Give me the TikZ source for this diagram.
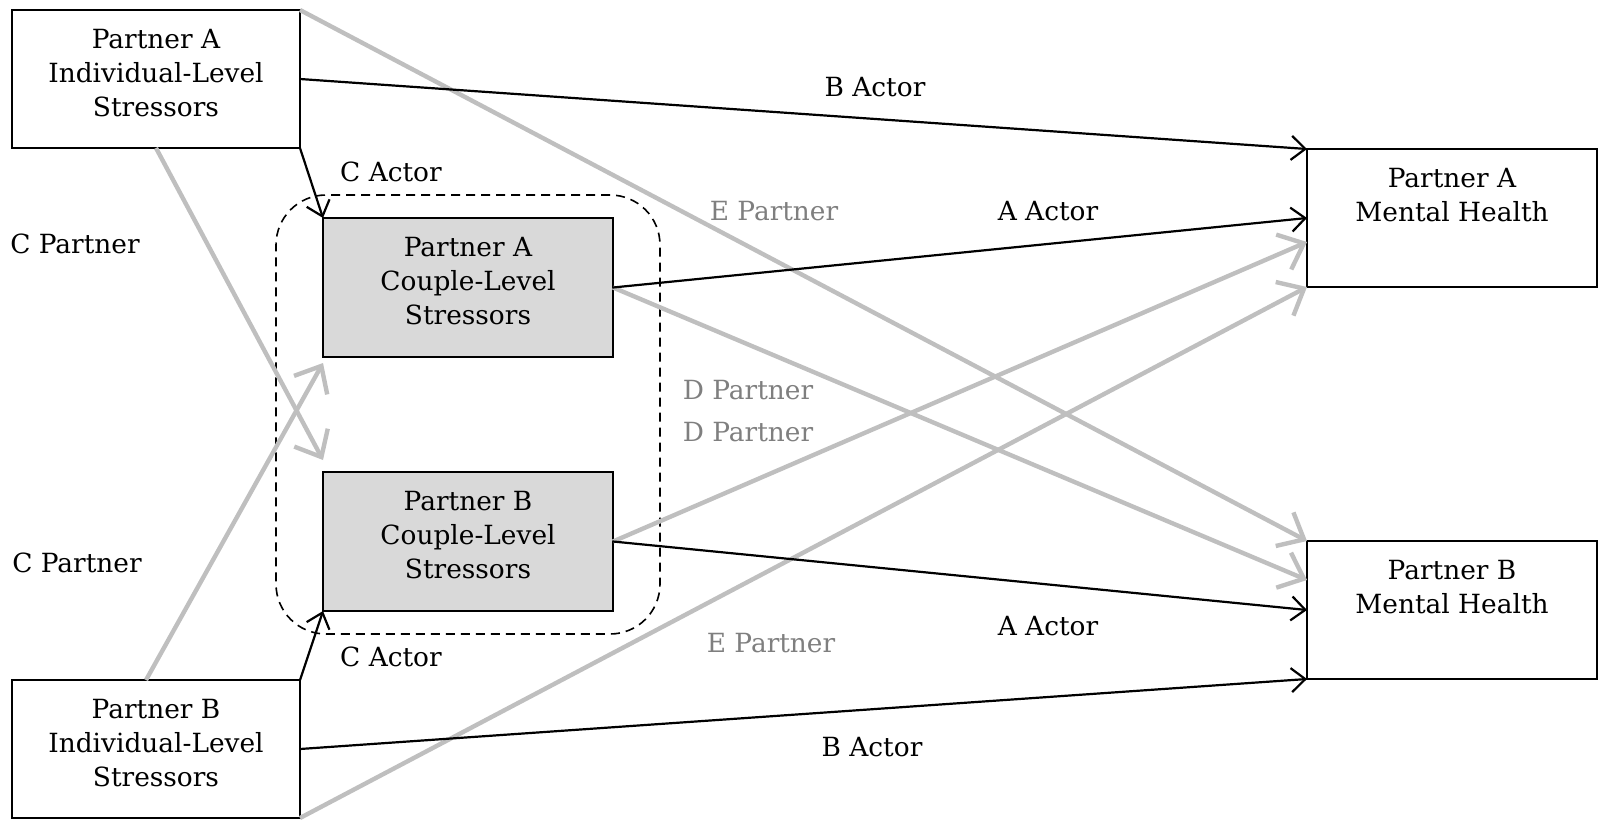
\documentclass[tikz,border=0pt]{standalone}
\usepackage{fontspec}
\setmainfont{DejaVu Serif}
\usetikzlibrary{arrows.meta,fit}
\definecolor{cplgray}{HTML}{D9D9D9}
\definecolor{pathgray}{HTML}{BFBFBF}
\definecolor{labgray}{HTML}{7F7F7F}
\tikzset{
  box/.style={draw, line width=1.1pt, minimum width=145pt, minimum height=69pt, inner sep=0pt, outer sep=0pt},
  boxtext/.style={anchor=north, align=center, yshift=-6pt},
  actor/.style={line width=1.1pt, -{Straight Barb[length=7pt,width=12pt]}},
  partner/.style={line width=2.2pt, pathgray, -{Straight Barb[length=11pt,width=19pt]}},
  graylab/.style={text=labgray}
}
\begin{document}
\begin{tikzpicture}[x=0.5pt, y=-0.5pt, font=\fontsize{13.2}{17}\selectfont]
  \useasboundingbox (0,0) rectangle (1606,825);
  \node[box, minimum width=144pt, label={[boxtext]north:{Partner A\\Individual-Level\\Stressors}}] (indA) at (156,79) {};
  \node[box, minimum width=144pt, label={[boxtext]north:{Partner B\\Individual-Level\\Stressors}}] (indB) at (156,749) {};
  \node[box, fill=cplgray, minimum height=69.5pt, label={[boxtext]north:{Partner A\\Couple-Level\\Stressors}}] (cplA) at (468,287.5) {};
  \node[box, fill=cplgray, minimum height=69.5pt, label={[boxtext]north:{Partner B\\Couple-Level\\Stressors}}] (cplB) at (468,541.5) {};
  \node[box, label={[boxtext]north:{Partner A\\Mental Health}}] (mhA) at (1452,218) {};
  \node[box, label={[boxtext]north:{Partner B\\Mental Health}}] (mhB) at (1452,610) {};
  \node[draw, line width=0.8pt, dash pattern=on 4.5pt off 3pt, rounded corners=25pt, inner xsep=23.5pt, inner ysep=11.5pt, fit=(cplA)(cplB)] (couple) {};

  \draw[partner] (indA.north east) -- (mhB.north west);
  \draw[partner] (indB.south east) -- (mhA.south west);
  \draw[partner] (cplA.east) -- ([yshift=15pt]mhB.west);
  \draw[partner] (cplB.east) -- ([yshift=-12pt]mhA.west);
  \draw[partner] (indA.south) -- ([yshift=6pt]cplB.north west);
  \draw[partner] ([xshift=-5pt]indB.north) -- ([yshift=-3pt]cplA.south west);

  \draw[actor] (indA.east) -- (mhA.north west);
  \draw[actor] (cplA.east) -- (mhA.west);
  \draw[actor] (cplB.east) -- (mhB.west);
  \draw[actor] (indB.east) -- (mhB.south west);
  \draw[actor] (indA.south east) -- (cplA.north west);
  \draw[actor] (indB.north east) -- (cplB.south west);

  \node (labBAtop) at (875,87) {B Actor};
  \node (labCAtop) at (391,172) {C Actor};
  \node[graylab] (labEPtop) at (774,211) {E Partner};
  \node (labAAtop) at (1048,211) {A Actor};
  \node (labCPtop) at (75,244) {C Partner};
  \node[graylab] (labDPone) at (748,390) {D Partner};
  \node[graylab] (labDPtwo) at (748,432) {D Partner};
  \node (labCPbot) at (77,563) {C Partner};
  \node (labAAbot) at (1048,626) {A Actor};
  \node[graylab] (labEPbot) at (771,643) {E Partner};
  \node (labCAbot) at (391,657) {C Actor};
  \node (labBAbot) at (872,747) {B Actor};
\end{tikzpicture}
\end{document}
